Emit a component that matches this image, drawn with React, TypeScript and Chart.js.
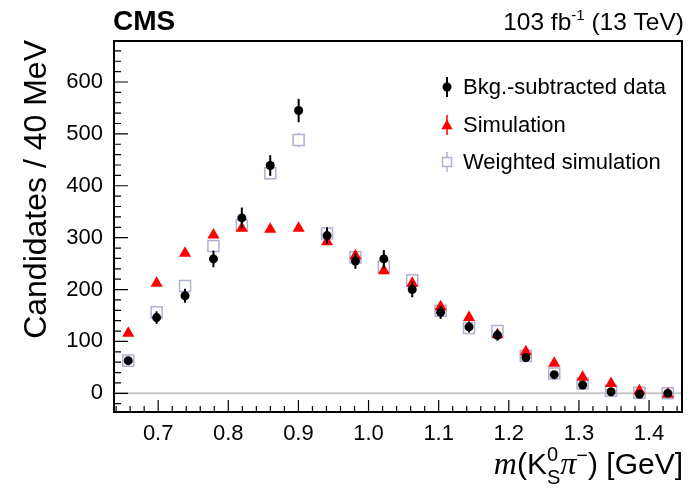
import React, { useEffect, useRef } from 'react';
import { Chart, registerables } from 'chart.js';

Chart.register(...registerables);

// ---- data ----
const massBins = [0.6573, 0.6978, 0.7383, 0.7788, 0.8193, 0.8598, 0.9003, 0.9408, 0.9813, 1.0218,
  1.0623, 1.1028, 1.1433, 1.1838, 1.2243, 1.2648, 1.3053, 1.3458, 1.3863, 1.4268];
const dataCounts = [63, 146, 188, 259, 338, 439, 545, 304, 255, 259, 200, 156, 128, 112, 69, 36, 16, 3, -2, 0];
const dataErrors = [7, 12, 13.5, 16, 20, 20, 22.5, 16, 15, 17, 15, 12.5, 10.6, 10.6, 8, 6, 5, 4, 3, 3];
const simCounts = [116, 212, 270, 305, 318, 316, 318, 292, 265, 236, 212, 167, 146, 113, 80, 58, 31, 19, 5, -2];
const weightedCounts = [63, 156, 207, 284, 324, 424, 488, 308, 262, 244, 218, 159, 126, 120, 72, 38, 19, 5, 1, 0];
const weightedErrors = [6, 8, 9, 9, 10, 12, 14, 9, 8, 8, 8, 7, 6, 6, 5, 4, 3, 3, 3, 3];

const xTickValues = [0.7, 0.8, 0.9, 1.0, 1.1, 1.2, 1.3, 1.4];
const xTickLabels = ['0.7', '0.8', '0.9', '1.0', '1.1', '1.2', '1.3', '1.4'];
const yTickValues = [0, 100, 200, 300, 400, 500, 600];
const yTickLabels = ['0', '100', '200', '300', '400', '500', '600'];
const legendLabels = ['Bkg.-subtracted data', 'Simulation', 'Weighted simulation'];
const yTitle = 'Candidates / 40 MeV';

const X_MIN = 0.637;
const X_MAX = 1.447;
const Y_MIN = -36;
const Y_MAX = 679;

const SANS = '"Liberation Sans", Arial, Helvetica, sans-serif';
const SERIF = '"Liberation Serif", "Times New Roman", serif';
const RED = '#ff0000';
const LAV = '#b0b0d2';

type Piece = { t: string; font: string; dy?: number; stackWith?: { t: string; font: string; dy: number } };

function drawRich(ctx: CanvasRenderingContext2D, pieces: Piece[], rightX: number, baseline: number) {
  const widths = pieces.map((p) => {
    ctx.font = p.font;
    let w = ctx.measureText(p.t).width;
    if (p.stackWith) {
      ctx.font = p.stackWith.font;
      w = Math.max(w, ctx.measureText(p.stackWith.t).width);
    }
    return w;
  });
  const total = widths.reduce((a, b) => a + b, 0);
  let x = rightX - total;
  ctx.textAlign = 'left';
  ctx.textBaseline = 'alphabetic';
  pieces.forEach((p, i) => {
    ctx.font = p.font;
    ctx.fillText(p.t, x, baseline + (p.dy || 0));
    if (p.stackWith) {
      ctx.font = p.stackWith.font;
      ctx.fillText(p.stackWith.t, x, baseline + p.stackWith.dy);
    }
    x += widths[i];
  });
}

function drawTriangle(ctx: CanvasRenderingContext2D, x: number, y: number, r: number) {
  ctx.beginPath();
  ctx.moveTo(x, y - r);
  ctx.lineTo(x + r * Math.sin((2 * Math.PI) / 3), y - r * Math.cos((2 * Math.PI) / 3));
  ctx.lineTo(x + r * Math.sin((4 * Math.PI) / 3), y - r * Math.cos((4 * Math.PI) / 3));
  ctx.closePath();
  ctx.fill();
}

const decorPlugin = {
  id: 'cmsDecor',
  beforeDatasetsDraw(chart: any) {
    const { ctx, chartArea: a, scales } = chart;
    const y0 = scales.y.getPixelForValue(0);
    ctx.save();
    ctx.strokeStyle = '#c8c8c8';
    ctx.lineWidth = 2;
    ctx.beginPath();
    ctx.moveTo(a.left, y0);
    ctx.lineTo(a.right, y0);
    ctx.stroke();
    ctx.restore();
  },
  afterDatasetDraw(chart: any, args: any) {
    const idx = args.index;
    const { ctx, scales } = chart;
    const xs = scales.x;
    const ys = scales.y;
    ctx.save();
    if (idx === 0) {
      ctx.strokeStyle = '#000';
      ctx.lineWidth = 2;
      dataCounts.forEach((v, i) => {
        const px = xs.getPixelForValue(massBins[i]);
        ctx.beginPath();
        ctx.moveTo(px, ys.getPixelForValue(v + dataErrors[i]));
        ctx.lineTo(px, ys.getPixelForValue(v - dataErrors[i]));
        ctx.stroke();
      });
    } else if (idx === 2) {
      ctx.strokeStyle = LAV;
      ctx.lineWidth = 1.5;
      const half = 5.5;
      weightedCounts.forEach((v, i) => {
        const px = xs.getPixelForValue(massBins[i]);
        const py = ys.getPixelForValue(v);
        const top = ys.getPixelForValue(v + weightedErrors[i]);
        const bot = ys.getPixelForValue(v - weightedErrors[i]);
        ctx.beginPath();
        if (top < py - half) {
          ctx.moveTo(px, top);
          ctx.lineTo(px, py - half);
        }
        if (bot > py + half) {
          ctx.moveTo(px, py + half);
          ctx.lineTo(px, bot);
        }
        ctx.stroke();
      });
    }
    ctx.restore();
  },
  afterDraw(chart: any) {
    const { ctx, chartArea: a, scales } = chart;
    const xs = scales.x;
    const ys = scales.y;
    ctx.save();
    // frame
    ctx.strokeStyle = '#000';
    ctx.lineWidth = 2;
    ctx.strokeRect(a.left, a.top, a.right - a.left, a.bottom - a.top);
    // x ticks (inward)
    ctx.lineWidth = 1.2;
    ctx.beginPath();
    for (let k = 32; k <= 72; k++) {
      const v = k / 50;
      if (v < X_MIN || v > X_MAX) continue;
      const px = xs.getPixelForValue(v);
      const len = k % 5 === 0 ? 12 : 6;
      ctx.moveTo(px, a.bottom);
      ctx.lineTo(px, a.bottom - len);
    }
    // y ticks (inward)
    for (let v = -20; v <= 670; v += 20) {
      if (v < Y_MIN || v > Y_MAX) continue;
      const py = ys.getPixelForValue(v);
      const len = v % 100 === 0 ? 14 : 7;
      ctx.moveTo(a.left, py);
      ctx.lineTo(a.left + len, py);
    }
    ctx.stroke();

    ctx.fillStyle = '#000';
    // CMS label
    ctx.font = `bold 28px ${SANS}`;
    ctx.textAlign = 'left';
    ctx.textBaseline = 'alphabetic';
    ctx.fillText('CMS', a.left - 1, 30);
    // luminosity label
    drawRich(ctx, [
      { t: '103 fb', font: `24.5px ${SANS}` },
      { t: '-1', font: `15px ${SANS}`, dy: -10 },
      { t: ' (13 TeV)', font: `24.5px ${SANS}` },
    ], a.right + 2, 30);

    // y title
    ctx.save();
    ctx.translate(46, 40);
    ctx.rotate(-Math.PI / 2);
    ctx.font = `32px ${SANS}`;
    ctx.textAlign = 'right';
    ctx.textBaseline = 'alphabetic';
    ctx.fillText(yTitle, 0, 0);
    ctx.restore();

    // x title: m(K_S^0 pi^-) [GeV]
    drawRich(ctx, [
      { t: 'm', font: `italic 32px ${SERIF}` },
      { t: '(K', font: `30px ${SANS}` },
      { t: 'S', font: `20px ${SANS}`, dy: 10, stackWith: { t: '0', font: `20px ${SANS}`, dy: -13 } },
      { t: 'π', font: `italic 32px ${SERIF}` },
      { t: '−', font: `20px ${SANS}`, dy: -12 },
      { t: ') [GeV]', font: `30px ${SANS}` },
    ], a.right + 1, 474);

    // legend
    const mx = 447;
    const tx = 463;
    const rows = [87, 125, 162];
    ctx.font = `22px ${SANS}`;
    ctx.textAlign = 'left';
    ctx.textBaseline = 'middle';
    legendLabels.forEach((lab, i) => ctx.fillText(lab, tx, rows[i] + 1));
    // data marker
    ctx.strokeStyle = '#000';
    ctx.lineWidth = 2;
    ctx.beginPath();
    ctx.moveTo(mx, rows[0] - 10);
    ctx.lineTo(mx, rows[0] + 10);
    ctx.stroke();
    ctx.beginPath();
    ctx.arc(mx, rows[0], 4.5, 0, Math.PI * 2);
    ctx.fill();
    // simulation marker
    ctx.strokeStyle = RED;
    ctx.fillStyle = RED;
    ctx.lineWidth = 1.5;
    ctx.beginPath();
    ctx.moveTo(mx, rows[1] - 10);
    ctx.lineTo(mx, rows[1] + 10);
    ctx.stroke();
    drawTriangle(ctx, mx, rows[1] + 1, 6.5);
    // weighted marker
    ctx.strokeStyle = LAV;
    ctx.lineWidth = 1.5;
    ctx.beginPath();
    ctx.moveTo(mx, rows[2] - 10);
    ctx.lineTo(mx, rows[2] - 4.5);
    ctx.moveTo(mx, rows[2] + 4.5);
    ctx.lineTo(mx, rows[2] + 10);
    ctx.stroke();
    ctx.strokeRect(mx - 4.5, rows[2] - 4.5, 9, 9);
    ctx.restore();
  },
};

export default function App() {
  const canvasRef = useRef<HTMLCanvasElement | null>(null);

  useEffect(() => {
    const canvas = canvasRef.current;
    if (!canvas) return;
    const chart = new Chart(canvas, {
      type: 'scatter',
      data: {
        datasets: [
          {
            label: legendLabels[0],
            data: massBins.map((x, i) => ({ x, y: dataCounts[i] })),
            pointStyle: 'circle',
            pointRadius: 4.5,
            backgroundColor: '#000',
            borderColor: '#000',
            borderWidth: 0,
            showLine: false,
          },
          {
            label: legendLabels[1],
            data: massBins.map((x, i) => ({ x, y: simCounts[i] })),
            pointStyle: 'triangle',
            pointRadius: 7,
            backgroundColor: RED,
            borderColor: RED,
            borderWidth: 0,
            showLine: false,
          },
          {
            label: legendLabels[2],
            data: massBins.map((x, i) => ({ x, y: weightedCounts[i] })),
            pointStyle: 'rect',
            pointRadius: 7.8,
            backgroundColor: 'rgba(0,0,0,0)',
            borderColor: LAV,
            borderWidth: 1.5,
            showLine: false,
          },
        ],
      },
      options: {
        animation: false,
        responsive: false,
        maintainAspectRatio: false,
        devicePixelRatio: 1,
        events: [],
        layout: { padding: { left: 0, right: 17, top: 41, bottom: 0 } },
        plugins: {
          legend: { display: false },
          tooltip: { enabled: false },
        },
        scales: {
          x: {
            type: 'linear',
            min: X_MIN,
            max: X_MAX,
            grid: { display: false, drawTicks: false },
            border: { display: false },
            afterBuildTicks: (scale: any) => {
              scale.ticks = xTickValues.map((v) => ({ value: v }));
            },
            afterFit: (scale: any) => {
              scale.height = 84;
            },
            ticks: {
              autoSkip: false,
              maxRotation: 0,
              padding: 9,
              color: '#000',
              font: { family: SANS, size: 22 },
              callback: (_v: any, i: number) => xTickLabels[i],
            },
          },
          y: {
            type: 'linear',
            min: Y_MIN,
            max: Y_MAX,
            grid: { display: false, drawTicks: false },
            border: { display: false },
            afterBuildTicks: (scale: any) => {
              scale.ticks = yTickValues.map((v) => ({ value: v }));
            },
            afterFit: (scale: any) => {
              scale.width = 114;
            },
            ticks: {
              autoSkip: false,
              padding: 11,
              color: '#000',
              font: { family: SANS, size: 22 },
              callback: (_v: any, i: number) => yTickLabels[i],
            },
          },
        },
      },
      plugins: [decorPlugin],
    });
    return () => chart.destroy();
  }, []);

  return (
    <div style={{ position: 'fixed', left: 0, top: 0, width: 699, height: 496, background: '#fff' }}>
      <canvas ref={canvasRef} width={699} height={496} style={{ display: 'block', width: 699, height: 496 }} />
    </div>
  );
}
